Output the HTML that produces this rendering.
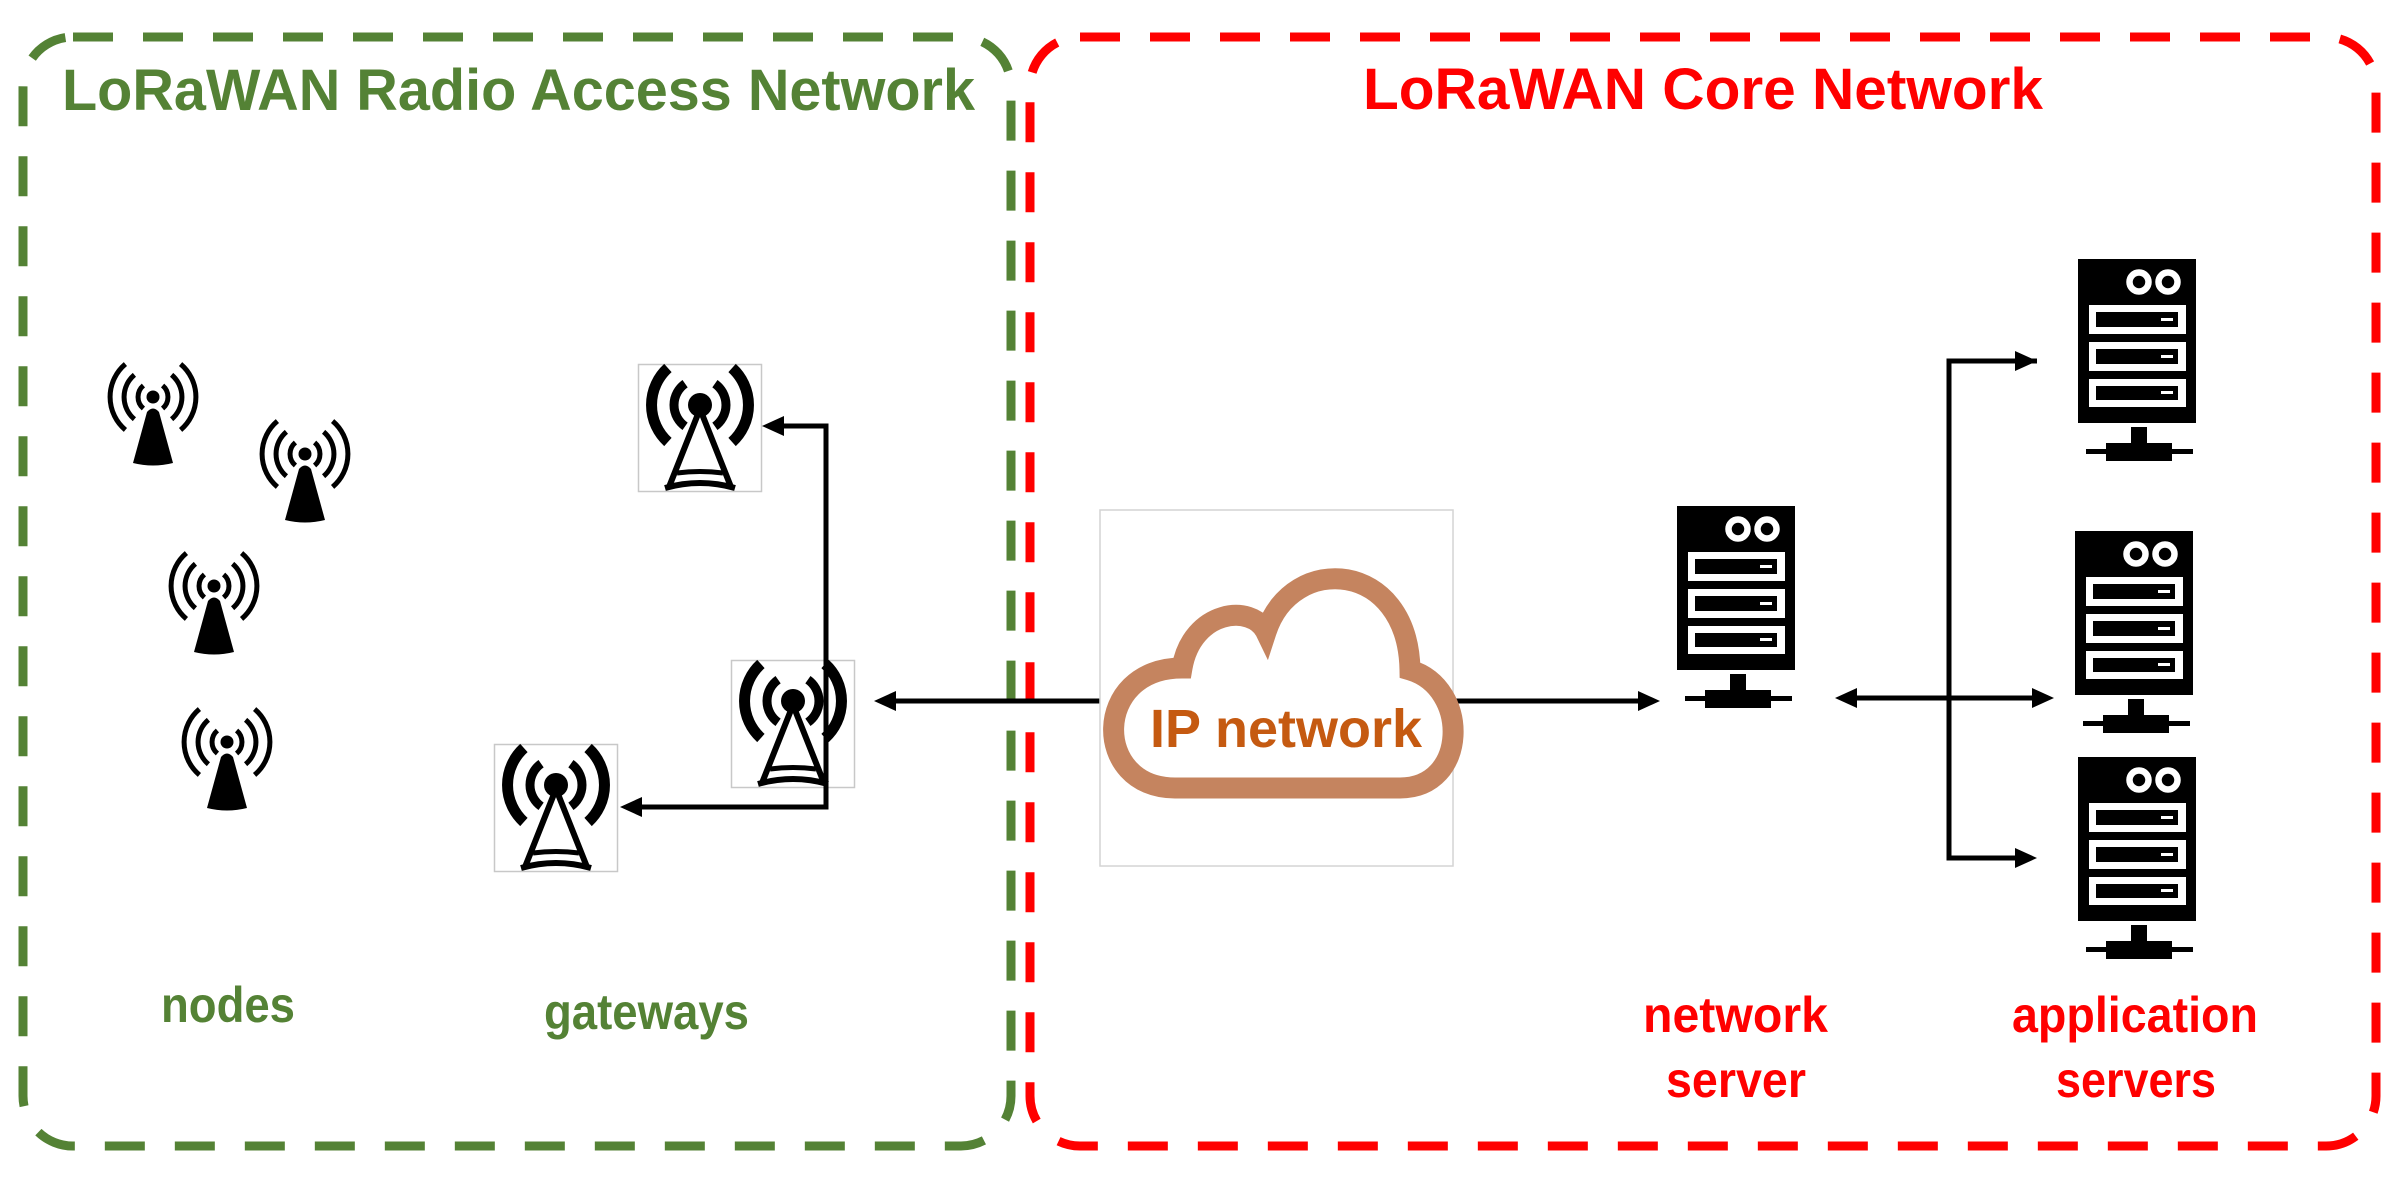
<!DOCTYPE html>
<html><head><meta charset="utf-8"><style>
html,body{margin:0;padding:0;background:#fff;}
svg{display:block;}
text{font-family:"Liberation Sans",sans-serif;font-weight:bold;}
</style></head><body>
<svg width="2404" height="1181" viewBox="0 0 2404 1181" xmlns="http://www.w3.org/2000/svg">
<defs>
<g id="srv">
  <rect x="0" y="0" width="118" height="164" fill="#000"/>
  <circle cx="61" cy="23" r="9.5" fill="none" stroke="#fff" stroke-width="6.5"/>
  <circle cx="90" cy="23" r="9.5" fill="none" stroke="#fff" stroke-width="6.5"/>
  <rect x="11" y="46" width="97" height="29" fill="#fff"/>
  <rect x="18" y="53" width="82" height="15" fill="#000"/>
  <rect x="83" y="59" width="12" height="3" fill="#fff"/>
  <rect x="11" y="83" width="97" height="29" fill="#fff"/>
  <rect x="18" y="90" width="82" height="15" fill="#000"/>
  <rect x="83" y="96" width="12" height="3" fill="#fff"/>
  <rect x="11" y="120" width="97" height="28" fill="#fff"/>
  <rect x="18" y="127" width="82" height="14" fill="#000"/>
  <rect x="83" y="132" width="12" height="3" fill="#fff"/>
  <rect x="53" y="168" width="16" height="17" fill="#000"/>
  <rect x="28" y="184" width="66" height="18" fill="#000"/>
  <rect x="8" y="190" width="107" height="5" fill="#000"/>
</g>
<g id="gw">
  <rect x="0.5" y="0.5" width="123" height="127" fill="#fff" stroke="#c8c8c8" stroke-width="1.5"/>
  <g fill="none" stroke="#000" stroke-linecap="butt">
    <path d="M29.9 4 A50 50 0 0 0 29.9 78" stroke-width="11"/>
    <path d="M94.1 4 A50 50 0 0 1 94.1 78" stroke-width="11"/>
    <path d="M47.1 19.7 A26 26 0 0 0 47.1 62.3" stroke-width="9"/>
    <path d="M76.9 19.7 A26 26 0 0 1 76.9 62.3" stroke-width="9"/>
    <path d="M62 45 L31 123 M62 45 L93 123" stroke-width="6"/>
    <path d="M27 124 Q62 114 97 124" stroke-width="6"/>
    <path d="M39 109 Q62 106 85 109" stroke-width="5"/>
  </g>
  <circle cx="62" cy="41" r="12" fill="#000"/>
</g>
<g id="node">
  <g fill="none" stroke="#000" stroke-width="5">
    <path d="M-9.6 -11.5 A15 15 0 0 0 -9.6 11.5"/><path d="M9.6 -11.5 A15 15 0 0 1 9.6 11.5"/>
    <path d="M-18.6 -22.2 A29 29 0 0 0 -18.6 22.2"/><path d="M18.6 -22.2 A29 29 0 0 1 18.6 22.2"/>
    <path d="M-27.6 -32.9 A43 43 0 0 0 -27.6 32.9"/><path d="M27.6 -32.9 A43 43 0 0 1 27.6 32.9"/>
  </g>
  <circle cx="0" cy="0" r="6.5" fill="#000"/>
  <path d="M-6 15 Q0 8 6 15 L20 66 Q0 71 -20 66 Z" fill="#000"/>
</g>
</defs>

<rect x="23" y="37" width="988" height="1109" rx="50" ry="50" fill="none" stroke="#548235" stroke-width="9" stroke-dasharray="40 30"/>
<rect x="1030" y="37" width="1346" height="1109" rx="50" ry="50" fill="none" stroke="#ff0000" stroke-width="9" stroke-dasharray="40 30"/>

<text x="62" y="110" font-size="58" fill="#548235" textLength="913" lengthAdjust="spacingAndGlyphs">LoRaWAN Radio Access Network</text>
<text x="1363" y="109" font-size="58" fill="#ff0000" textLength="680" lengthAdjust="spacingAndGlyphs">LoRaWAN Core Network</text>

<use href="#node" x="153" y="397"/>
<use href="#node" x="305" y="454"/>
<use href="#node" x="214" y="586"/>
<use href="#node" x="227" y="742"/>

<use href="#gw" x="638" y="364"/>
<use href="#gw" x="731" y="660"/>
<use href="#gw" x="494" y="744"/>

<g stroke="#000" stroke-width="5" fill="none">
  <path d="M782 426 H826 V807 H640"/>
  <path d="M1100 701 H892"/>
  <path d="M1453 701 H1640"/>
  <path d="M1855 698 H2032"/>
  <path d="M2037 361 H1949 V858 H2017"/>
</g>
<g fill="#000">
  <polygon points="762,426 784,416 784,436"/>
  <polygon points="620,807 642,797 642,817"/>
  <polygon points="874,701 896,691 896,711"/>
  <polygon points="1660,701 1638,691 1638,711"/>
  <polygon points="1835,698 1857,688 1857,708"/>
  <polygon points="2054,698 2032,688 2032,708"/>
  <polygon points="2037,361 2015,351 2015,371"/>
  <polygon points="2037,858 2015,848 2015,868"/>
</g>

<rect x="1100" y="510" width="353" height="356" fill="none" stroke="#d4d4d4" stroke-width="1.5"/>
<path d="M1175 788 C1092 788 1092 668 1182 668 C1192 610 1252 603 1266 632 C1292 552 1408 560 1410 670 C1470 688 1468 788 1400 788 Z" fill="#fff" stroke="#c5845f" stroke-width="21"/>
<text x="1150" y="747" font-size="54" fill="#c55a11" textLength="272" lengthAdjust="spacingAndGlyphs">IP network</text>

<use href="#srv" x="1677" y="506"/>
<use href="#srv" x="2078" y="259"/>
<use href="#srv" x="2075" y="531"/>
<use href="#srv" x="2078" y="757"/>

<text x="161" y="1022" font-size="50" fill="#548235" textLength="134" lengthAdjust="spacingAndGlyphs">nodes</text>
<text x="544" y="1029" font-size="50" fill="#548235" textLength="205" lengthAdjust="spacingAndGlyphs">gateways</text>
<text x="1643" y="1032" font-size="50" fill="#ff0000" textLength="185" lengthAdjust="spacingAndGlyphs">network</text>
<text x="1666" y="1097" font-size="50" fill="#ff0000" textLength="140" lengthAdjust="spacingAndGlyphs">server</text>
<text x="2012" y="1032" font-size="50" fill="#ff0000" textLength="246" lengthAdjust="spacingAndGlyphs">application</text>
<text x="2056" y="1097" font-size="50" fill="#ff0000" textLength="160" lengthAdjust="spacingAndGlyphs">servers</text>
</svg>
</body></html>
